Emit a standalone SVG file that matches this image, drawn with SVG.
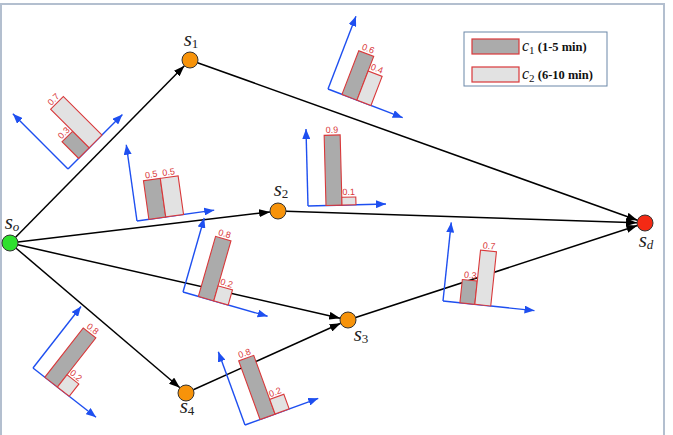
<svg xmlns="http://www.w3.org/2000/svg" width="673" height="435" viewBox="0 0 673 435">
  <defs>
    <marker id="arrowBlack" markerUnits="userSpaceOnUse" markerWidth="11" markerHeight="8" refX="11" refY="4" orient="auto">
      <path d="M0,0 L11,4 L0,8 z" fill="#000"/>
    </marker>
    <marker id="arrowBlue" markerUnits="userSpaceOnUse" markerWidth="10" markerHeight="8" refX="10" refY="4" orient="auto">
      <path d="M0,0 L10,4 L0,8 z" fill="#1e4ff0"/>
    </marker>
  </defs>
  <style>
    .edge { stroke: #000; stroke-width: 1.5; fill: none; marker-end: url(#arrowBlack); }
    .axis { stroke: #1e4ff0; stroke-width: 1.4; fill: none; marker-end: url(#arrowBlue); }
    .bar1 { fill: #ababab; stroke: #d9383a; stroke-width: 1.1; }
    .bar2 { fill: #e2e2e2; stroke: #d9383a; stroke-width: 1.1; }
    .val { font-family: "Liberation Sans", Arial, sans-serif; font-size: 9px; fill: #d9383a; text-anchor: middle; }
    .node { stroke: #333; stroke-width: 1; }
    .lbl { font-family: "Liberation Serif", "Times New Roman", serif; font-style: italic; font-size: 21px; fill: #222; text-anchor: middle; }
    .sub { font-size: 13px; }
    .leg { font-family: "Liberation Serif", "Times New Roman", serif; font-size: 12.5px; font-weight: bold; fill: #111; }
  </style>

  <rect x="1" y="4" width="663" height="440" fill="#fff" stroke="#b3bfcf" stroke-width="2"/>

  <!-- connectors -->
  <g id="edges">
    <line class="edge" x1="15.6" y1="237.3" x2="184.4" y2="65.7"/>
    <line class="edge" x1="17.9" y1="242.1" x2="270.1" y2="211.9"/>
    <line class="edge" x1="17.8" y1="244.8" x2="340.2" y2="318.2"/>
    <line class="edge" x1="16.1" y1="248.2" x2="179.9" y2="387.8"/>
    <line class="edge" x1="197.5" y1="62.7" x2="637.5" y2="220.3"/>
    <line class="edge" x1="286" y1="211.3" x2="637" y2="222.7"/>
    <line class="edge" x1="355.6" y1="317.5" x2="637.4" y2="225.5"/>
    <line class="edge" x1="193.3" y1="389.7" x2="340.7" y2="323.3"/>
  </g>

  <!-- per-edge bar charts (local frame: origin at axis corner, y up = negative) -->
  <g id="chart-o-1" transform="translate(68,169) rotate(-45)">
    <path class="axis" d="M0,0 H77"/>
    <path class="axis" d="M0,0 V-78"/>
    <rect class="bar1" x="15" y="-23.4" width="15" height="23.4"/>
    <rect class="bar2" x="30" y="-54.6" width="18" height="54.6"/>
    <text class="val" x="22.5" y="-25.5">0.3</text>
    <text class="val" x="39" y="-56.5">0.7</text>
  </g>

  <g id="chart-o-2" transform="translate(137,221) rotate(-8)">
    <path class="axis" d="M0,0 H78"/>
    <path class="axis" d="M0,0 V-77"/>
    <rect class="bar1" x="12" y="-39" width="17" height="39"/>
    <rect class="bar2" x="29" y="-39" width="18" height="39"/>
    <text class="val" x="20.5" y="-41">0.5</text>
    <text class="val" x="38" y="-41">0.5</text>
  </g>

  <g id="chart-2-d" transform="translate(308,206) rotate(-1.5)">
    <path class="axis" d="M0,0 H78"/>
    <path class="axis" d="M0,0 V-77"/>
    <rect class="bar1" x="18" y="-70.2" width="16" height="70.2"/>
    <rect class="bar2" x="34" y="-7.8" width="14" height="7.8"/>
    <text class="val" x="26" y="-72.5">0.9</text>
    <text class="val" x="41" y="-10">0.1</text>
  </g>

  <g id="chart-o-3" transform="translate(183,292) rotate(16)">
    <path class="axis" d="M0,0 H88"/>
    <path class="axis" d="M0,0 V-77"/>
    <rect class="bar1" x="16" y="-62.4" width="16" height="62.4"/>
    <rect class="bar2" x="32" y="-15.6" width="15" height="15.6"/>
    <text class="val" x="24" y="-64.5">0.8</text>
    <text class="val" x="39.5" y="-17.5">0.2</text>
  </g>

  <g id="chart-o-4" transform="translate(33,368) rotate(38)">
    <path class="axis" d="M0,0 H80"/>
    <path class="axis" d="M0,0 V-78"/>
    <rect class="bar1" x="15" y="-62.4" width="16" height="62.4"/>
    <rect class="bar2" x="31" y="-15.6" width="15" height="15.6"/>
    <text class="val" x="23" y="-64.5">0.8</text>
    <text class="val" x="38.5" y="-17.5">0.2</text>
  </g>

  <g id="chart-4-3" transform="translate(245,425) rotate(-20)">
    <path class="axis" d="M0,0 H78"/>
    <path class="axis" d="M0,0 V-78"/>
    <rect class="bar1" x="16" y="-62.4" width="16" height="62.4"/>
    <rect class="bar2" x="32" y="-15.6" width="15" height="15.6"/>
    <text class="val" x="24" y="-64.5">0.8</text>
    <text class="val" x="39.5" y="-17.5">0.2</text>
  </g>

  <g id="chart-3-d" transform="translate(443,301) rotate(6)">
    <path class="axis" d="M0,0 H92"/>
    <path class="axis" d="M0,0 V-79"/>
    <rect class="bar1" x="17" y="-23.4" width="15" height="23.4"/>
    <rect class="bar2" x="32" y="-54.6" width="16" height="54.6"/>
    <text class="val" x="24.5" y="-25.5">0.3</text>
    <text class="val" x="40" y="-56.5">0.7</text>
  </g>

  <g id="chart-1-d" transform="translate(328,89) rotate(21)">
    <path class="axis" d="M0,0 H80"/>
    <path class="axis" d="M0,0 V-78"/>
    <rect class="bar1" x="15" y="-46.8" width="16" height="46.8"/>
    <rect class="bar2" x="31" y="-31.2" width="15" height="31.2"/>
    <text class="val" x="23" y="-49">0.6</text>
    <text class="val" x="38.5" y="-33.5">0.4</text>
  </g>

  <!-- nodes -->
  <g id="node-so">
    <circle class="node" cx="10" cy="243" r="8" fill="#2ee02e"/>
    <text class="lbl" x="12" y="229">s<tspan class="sub" dy="2">o</tspan></text>
  </g>
  <g id="node-s1">
    <circle class="node" cx="190" cy="60" r="8" fill="#f7930a"/>
    <text class="lbl" x="191" y="46">s<tspan class="sub" dy="2" font-style="normal">1</tspan></text>
  </g>
  <g id="node-s2">
    <circle class="node" cx="278" cy="211" r="8" fill="#f7930a"/>
    <text class="lbl" x="281" y="196">s<tspan class="sub" dy="2" font-style="normal">2</tspan></text>
  </g>
  <g id="node-s3">
    <circle class="node" cx="348" cy="320" r="8" fill="#f7930a"/>
    <text class="lbl" x="361" y="341">s<tspan class="sub" dy="2" font-style="normal">3</tspan></text>
  </g>
  <g id="node-s4">
    <circle class="node" cx="186" cy="393" r="8" fill="#f7930a"/>
    <text class="lbl" x="187" y="413">s<tspan class="sub" dy="2" font-style="normal">4</tspan></text>
  </g>
  <g id="node-sd">
    <circle class="node" cx="645" cy="223" r="8" fill="#f42a14"/>
    <text class="lbl" x="646" y="247">s<tspan class="sub" dy="2">d</tspan></text>
  </g>

  <!-- legend -->
  <g id="legend">
    <rect x="464" y="32" width="143" height="54" fill="#fff" stroke="#6b87a8" stroke-width="1"/>
    <rect x="472" y="39" width="47" height="15" fill="#ababab" stroke="#d9383a" stroke-width="1.2"/>
    <rect x="472" y="67" width="47" height="15" fill="#e2e2e2" stroke="#d9383a" stroke-width="1.2"/>
    <text class="leg" x="522" y="51"><tspan font-style="italic" font-weight="normal" font-size="16">c</tspan><tspan font-weight="normal" font-size="11" dy="3">1</tspan><tspan dy="-3"> (1-5 min)</tspan></text>
    <text class="leg" x="522" y="79"><tspan font-style="italic" font-weight="normal" font-size="16">c</tspan><tspan font-weight="normal" font-size="11" dy="3">2</tspan><tspan dy="-3"> (6-10 min)</tspan></text>
  </g>
</svg>
